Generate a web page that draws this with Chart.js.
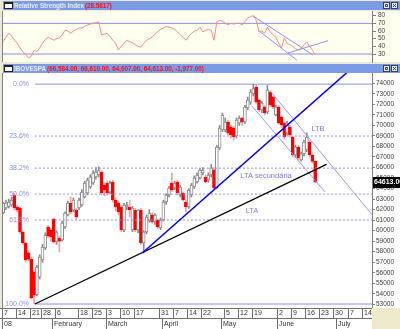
<!DOCTYPE html>
<html>
<head>
<meta charset="utf-8">
<title>IBOVESPA</title>
<script src="https://cdn.jsdelivr.net/npm/chart.js@4.4.1/dist/chart.umd.min.js"></script>
<style>
  body { margin: 0; width: 400px; height: 329px; overflow: hidden; background: #ece9d8; position: relative; }
  #rsiWrap { position: absolute; left: 0; top: 0; width: 400px; height: 72px; }
  #mainWrap { position: absolute; left: 0; top: 64px; width: 400px; height: 265px; }
</style>
</head>
<body>
<div id="rsiWrap"><canvas id="rsiChart" width="400" height="72"></canvas></div>
<div id="mainWrap"><canvas id="mainChart" width="400" height="265"></canvas></div>
<script>
// ==================== data ====================

// daily candles, Jan 7 2008 = index 0
const opens  = [61700,62150,62300,62440,63390,62250,62150,59870,58830,57900,57300,56070,53890,55600,57210,58350,60350,60060,61110,58920,
                59300,59110,60350,61490,62630,61960,61960,62150,62440,63200,63580,64150,64530,65100,65300,65570,64340,64530,63670,64620,
                62910,62630,62250,60060,62250,62250,60060,61960,60060,61960,58830,59870,61000,61490,60820,61010,60250,61010,62720,63390,
                64530,64050,64620,63390,63580,62720,62250,63390,64150,64620,65000,65480,65100,64810,65290,65760,64100,67850,69560,69560,
                70320,69850,69750,69000,70230,70700,70320,71650,72220,73000,73650,72410,71460,71750,71270,73170,72700,70990,71750,70800,
                70230,69280,69850,68900,67190,67950,66710,67290,67660,68420,67190,66584];
const highs  = [62700,62900,63000,63200,63580,62400,62250,60000,58900,58100,57500,56200,56700,57700,58700,59800,60500,60200,61200,60000,
                59500,60900,61800,62800,63200,63100,62100,63100,63900,64700,65000,65300,65700,66000,66050,65700,64500,64700,64700,64800,
                63100,62800,62400,62600,62700,62900,62300,62100,62000,62100,60000,61500,62000,61700,61600,61100,61200,62900,63500,64200,
                65480,64700,64800,64300,63700,62900,64000,64500,65200,65500,65900,66000,65300,65500,66300,66000,68100,70000,71180,70700,
                70500,70000,69900,70700,70900,70800,71900,72700,73400,73920,73800,72500,72300,71900,73800,73300,72800,71900,71900,70900,
                70300,70400,70000,69000,68100,68100,67500,68600,69280,68600,67300,66610];
const lows   = [61600,62000,62150,62300,62000,61800,59700,58700,57000,57100,53500,53030,53800,55400,57000,58200,59300,59000,58800,58700,
                57970,59000,60200,61400,61600,61800,61100,62000,62300,63100,63400,64000,64400,64900,65100,63400,63300,63400,63500,62700,
                61900,61500,59900,59900,62000,61300,59900,59900,59800,58700,57880,59700,60800,60700,60600,60200,60100,60900,62500,63200,
                63700,63900,63400,63200,62800,61770,62100,63200,64000,64500,64900,65300,64500,64600,65100,63900,64000,67700,69400,69400,
                69100,68800,68600,68800,70000,70000,70200,71500,72000,72800,72100,71300,71200,71000,71100,71800,71600,70900,70100,69800,
                68700,69100,68900,67000,67000,66700,66600,67100,67500,67000,66400,64607];
const closes = [62600,62630,62720,62910,62150,61960,59870,58830,57210,57300,53600,53890,56550,57500,58450,59590,59490,59400,58920,59870,
                59000,60730,61680,62630,61770,62910,61300,62910,63670,64530,64810,65100,65480,65570,65700,63580,63860,63580,64530,62910,
                62250,61770,60060,62440,62440,61960,62150,60060,61960,58830,59870,61300,61680,60820,61490,60350,61010,62720,63390,64050,
                63860,64530,63580,64150,62910,62250,63860,64340,65000,65290,65760,65760,64620,65290,65960,64050,67950,69750,70990,70320,
                69280,69090,68900,70510,70700,70320,71750,72410,73170,73500,72220,71460,72120,71180,73360,71940,71750,71750,70230,70040,
                68900,70230,69090,67190,67950,66900,67290,68420,68900,67190,66590,64613];

// RSI(14)
const rsiValues = [46,52,57,54,48,44,38,33,29,25,27,35,33,38,44,49,52,50,48,50,
                   51,55,61,60,57,60,62,64,64,66,68,69,70,71,72,55,56,57,53,48,
                   44,35,40,44,48,46,45,42,40,39,44,48,50,52,56,59,62,64,66,65,
                   64,62,59,55,52,48,53,57,60,61,65,59,61,62,61,48,72,74,73,70,
                   68,70,69,70,70,68,72,77,79,80,74,59,60,57,65,59,55,52,44,38,
                   51,44,42,40,37,35,37,42,46,40,35,28.58];
const rsiTicks = [30, 40, 50, 60, 70, 80];
const rsiBands = [70, 30];

// trendlines on the RSI panel: [x0, x1], [y0, y1]
const rsiUpperX = [88.9, 110.2], rsiUpperY = [79.6, 28.7];
const rsiLowerX = [91.4, 104.5], rsiLowerY = [59.1, 22];
const rsiRiseX = [101.3, 115.6], rsiRiseY = [31.3, 47.4];

// price axis
const priceTicks = [53000,54000,55000,56000,57000,58000,59000,60000,61000,62000,63000,
                    64000,65000,66000,67000,68000,69000,70000,71000,72000,73000,74000];

// fibonacci retracement between the January low and the May high
const fibHigh = 73920, fibLow = 53030, fibStart = 11.3;
const fibRatios = [0, 23.6, 38.2, 50, 61.8, 100];
const fibLabels = ['0.0%', '23.6%', '38.2%', '50.0%', '61.8%', '100.0%'];

// trendlines on the price panel
const ltaX = [11.3, 115], ltaY = [53030, 66300];          // black
const ltaSecX = [49.5, 124], ltaSecY = [57880, 75430];    // blue
const ltbTopX = [95.3, 131.6], ltbTopY = [73170, 61390];  // channel
const ltbBotX = [88.5, 114.5], ltbBotY = [71840, 63670];

const noteTexts = ['LTB', 'LTA secundária', 'LTA'];
const noteX = [112, 93.5, 88.5];
const noteY = [69650, 65190, 61870];

// date axis (trading day index)
const dayTickIdx = [0,5,10,14,19,27,32,37,42,47,56,61,66,71,79,84,89,98,103,108,113,118,123,128];
const dayTickLabels = ['7','14','21','28','6','18','25','3','10','17','31','7','14','22','5','12','19','2','9','16','23','30','7','14'];
const monthTickIdx = [0, 18, 37, 57, 78, 98, 119];
const monthLabels = ['08', 'February', 'March', 'April', 'May', 'June', 'July'];

const lastValue = '64613.00';
const mainTitle = 'IBOVESPA';
const mainTitleValues = '(66,584.00, 66,610.00, 64,607.00, 64,613.00, -1,977.00)';
const rsiTitle = 'Relative Strength Index';
const rsiTitleValue = '(28.5817)';

// ==================== style ====================
const xMin = -0.05, xMax = 131.2;
const fibColor = '#8c8cf0';
const barBlue = '#7b9be6';
const fontFamily = "'Liberation Sans', Arial, sans-serif";
const narrowFamily = "'Liberation Sans Narrow', 'Liberation Sans', Arial, sans-serif";

Chart.defaults.font.family = fontFamily;
Chart.defaults.animation = false;

function seg(xs, ys) {
  return [{ x: xs[0], y: ys[0] }, { x: xs[1], y: ys[1] }];
}

function lineSet(data, color, width, dash, order) {
  return {
    type: 'line', data, borderColor: color, borderWidth: width, borderDash: dash || [],
    pointRadius: 0, fill: false, tension: 0, order: order
  };
}

// title bar drawn in canvas
function drawTitleBar(ctx, y, parts) {
  ctx.save();
  ctx.fillStyle = barBlue;
  ctx.fillRect(3, y, 397, 9);
  ctx.fillStyle = '#ffffff';
  ctx.fillRect(4, y + 1, 9, 7);
  ctx.strokeStyle = '#202020';
  ctx.lineWidth = 1;
  ctx.strokeRect(4.5, y + 1.5, 8, 6);
  ctx.fillStyle = '#202020';
  ctx.fillRect(5, y + 2, 7, 1);
  let x = 14;
  ctx.textBaseline = 'middle';
  parts.forEach(p => {
    ctx.font = p.font;
    ctx.fillStyle = p.color;
    ctx.fillText(p.text, x, y + 5);
    x += ctx.measureText(p.text).width + 1;
  });
  // window buttons
  [383, 391].forEach((bx, k) => {
    ctx.fillStyle = '#e8e8e8';
    ctx.fillRect(bx, y + 1, 7, 7);
    ctx.strokeStyle = '#404040';
    ctx.strokeRect(bx + 0.5, y + 1.5, 6, 6);
    ctx.beginPath();
    if (k === 0) {
      ctx.rect(bx + 2.5, y + 3.5, 2, 2);
    } else {
      ctx.moveTo(bx + 2, y + 3); ctx.lineTo(bx + 5, y + 6);
      ctx.moveTo(bx + 5, y + 3); ctx.lineTo(bx + 2, y + 6);
    }
    ctx.stroke();
  });
  ctx.restore();
}

// ==================== RSI panel ====================
const rsiPanel = {
  id: 'rsiPanel',
  beforeDraw(chart) {
    const { ctx, chartArea } = chart;
    ctx.save();
    ctx.fillStyle = '#fffff0';
    ctx.fillRect(2, chartArea.top, 398, chartArea.bottom - chartArea.top);
    ctx.fillStyle = '#808080';
    ctx.fillRect(2, chartArea.top, 1, chartArea.bottom - chartArea.top);
    ctx.restore();
  },
  afterDraw(chart) {
    drawTitleBar(chart.ctx, 1, [
      { text: rsiTitle, font: 'bold 6.3px ' + fontFamily, color: '#e8eeff' },
      { text: rsiTitleValue, font: 'bold 6.3px ' + fontFamily, color: '#ff1010' }
    ]);
  }
};

new Chart(document.getElementById('rsiChart'), {
  type: 'line',
  data: {
    datasets: [
      lineSet(rsiValues.map((v, i) => ({ x: i, y: v })), '#ff8a8a', 1, null, 2),
      lineSet(seg([xMin, xMax], [rsiBands[0], rsiBands[0]]), '#8c8ce8', 1, null, 3),
      lineSet(seg([xMin, xMax], [rsiBands[1], rsiBands[1]]), '#8c8ce8', 1, null, 3),
      lineSet(seg(rsiUpperX, rsiUpperY), '#9090f0', 1, null, 1),
      lineSet(seg(rsiLowerX, rsiLowerY), '#9090f0', 1, null, 1),
      lineSet(seg(rsiRiseX, rsiRiseY), '#9090f0', 1, null, 1)
    ]
  },
  options: {
    responsive: false,
    events: [],
    layout: { autoPadding: false, padding: { left: 3, top: 11, right: 0, bottom: 10 } },
    plugins: { legend: { display: false }, tooltip: { enabled: false } },
    scales: {
      x: { type: 'linear', min: xMin, max: xMax, display: false },
      y: {
        position: 'right', min: 19.6, max: 86.1,
        afterFit(s) { s.width = 28; },
        afterBuildTicks(s) { s.ticks = rsiTicks.map(v => ({ value: v })); },
        ticks: { autoSkip: false, font: { size: 6.5, family: narrowFamily }, color: '#404040', padding: 2 },
        grid: { drawOnChartArea: false, tickLength: 4, color: '#808080' },
        border: { color: '#808080' }
      }
    }
  },
  plugins: [rsiPanel]
});

// ==================== price panel ====================
const isUp = opens.map((o, i) => closes[i] >= o);
const fibPrices = fibRatios.map(r => fibHigh - (fibHigh - fibLow) * r / 100);

const pricePanel = {
  id: 'pricePanel',
  beforeDraw(chart) {
    const { ctx, chartArea } = chart;
    ctx.save();
    ctx.fillStyle = '#ffffff';
    ctx.fillRect(2, chartArea.top, 398, chartArea.bottom - chartArea.top);
    ctx.fillStyle = '#808080';
    ctx.fillRect(2, chartArea.top, 1, chartArea.bottom - chartArea.top);
    ctx.restore();
  },
  afterDraw(chart) {
    const { ctx, chartArea, scales: { x, y } } = chart;
    ctx.save();

    // fibonacci labels
    ctx.font = '7px ' + fontFamily;
    ctx.fillStyle = fibColor;
    ctx.textAlign = 'right';
    ctx.textBaseline = 'middle';
    fibPrices.forEach((p, k) => ctx.fillText(fibLabels[k], 29, y.getPixelForValue(p)));

    // notes
    ctx.font = '7.5px ' + fontFamily;
    ctx.fillStyle = '#7c7ce6';
    ctx.textAlign = 'center';
    noteTexts.forEach((t, k) => ctx.fillText(t, x.getPixelForValue(noteX[k]), y.getPixelForValue(noteY[k])));

    // last value tag
    const ly = Math.round(y.getPixelForValue(closes[closes.length - 1]));
    ctx.fillStyle = '#000000';
    ctx.fillRect(chartArea.right + 1, ly - 5, 28, 11);
    ctx.fillStyle = '#ffffff';
    ctx.font = 'bold 7px ' + narrowFamily;
    ctx.textAlign = 'left';
    ctx.fillText(lastValue, chartArea.right + 2, ly + 0.5);

    // date band
    const top = chartArea.bottom;
    const mid = top + 10;
    const bot = chart.height;
    ctx.fillStyle = '#ffffff';
    ctx.fillRect(0, top, chartArea.right, bot - top);
    ctx.fillStyle = '#efe9cc';
    ctx.fillRect(chartArea.right, top, 400 - chartArea.right, bot - top);
    ctx.strokeStyle = '#707070';
    ctx.lineWidth = 1;
    ctx.beginPath();
    ctx.moveTo(0, top + 0.5); ctx.lineTo(chartArea.right, top + 0.5);
    ctx.moveTo(0, mid + 0.5); ctx.lineTo(chartArea.right, mid + 0.5);
    dayTickIdx.forEach(i => {
      const px = Math.round(x.getPixelForValue(i - 0.5)) + 0.5;
      ctx.moveTo(px, top); ctx.lineTo(px, mid);
    });
    monthTickIdx.forEach(i => {
      const px = Math.round(x.getPixelForValue(i - 0.5)) + 0.5;
      ctx.moveTo(px, mid); ctx.lineTo(px, bot);
    });
    ctx.stroke();

    ctx.fillStyle = '#303030';
    ctx.font = '7px ' + fontFamily;
    ctx.textAlign = 'left';
    ctx.textBaseline = 'middle';
    dayTickIdx.forEach((i, k) => {
      ctx.fillText(dayTickLabels[k], Math.round(x.getPixelForValue(i - 0.5)) + 2, top + 5.5);
    });
    monthTickIdx.forEach((i, k) => {
      ctx.fillText(monthLabels[k], Math.max(2, Math.round(x.getPixelForValue(i - 0.5)) + 2), mid + 6);
    });

    drawTitleBar(ctx, 0, [
      { text: mainTitle, font: 'bold 6.3px ' + fontFamily, color: '#e8eeff' },
      { text: mainTitleValues, font: 'bold 6.3px ' + fontFamily, color: '#ff1010' }
    ]);
    ctx.restore();
  }
};

const datasets = [
  {
    type: 'bar',
    data: opens.map((o, i) => ({ x: i, y: [lows[i], highs[i]] })),
    backgroundColor: isUp.map(u => u ? '#8a8a8a' : '#ff9c9c'),
    borderWidth: 0, barThickness: 1, grouped: false, order: 5
  },
  {
    type: 'bar',
    data: opens.map((o, i) => ({ x: i, y: [o, closes[i]] })),
    backgroundColor: isUp.map(u => u ? '#ffffff' : '#ff0000'),
    borderColor: isUp.map(u => u ? '#8a8a8a' : '#ff0000'),
    borderWidth: 1, borderSkipped: false, barThickness: 3, minBarLength: 1,
    grouped: false, order: 4
  }
];
fibPrices.forEach((p, k) => {
  const solid = k === 0 || k === fibPrices.length - 1;
  datasets.push(lineSet(seg([fibStart, xMax], [p, p]), fibColor, 1, solid ? null : [2, 2], 3));
});
datasets.push(lineSet(seg(ltbTopX, ltbTopY), '#9a9af2', 1, null, 2));
datasets.push(lineSet(seg(ltbBotX, ltbBotY), '#9a9af2', 1, null, 2));
datasets.push(lineSet(seg(ltaX, ltaY), '#000000', 1.3, null, 1));
datasets.push(lineSet(seg(ltaSecX, ltaSecY), '#0000ff', 1.5, null, 0));

new Chart(document.getElementById('mainChart'), {
  type: 'bar',
  data: { datasets },
  options: {
    responsive: false,
    events: [],
    layout: { padding: { left: 3, top: 9, right: 0, bottom: 21 } },
    plugins: { legend: { display: false }, tooltip: { enabled: false } },
    scales: {
      x: { type: 'linear', min: xMin, max: xMax, offset: false, display: false },
      y: {
        position: 'right', min: 52650, max: 74980,
        afterFit(s) { s.width = 28; },
        afterBuildTicks(s) { s.ticks = priceTicks.map(v => ({ value: v })); },
        ticks: { font: { size: 6.5, family: narrowFamily }, color: '#404040', padding: 1, callback: v => String(v) },
        grid: { drawOnChartArea: false, tickLength: 3, color: '#808080' },
        border: { color: '#808080' }
      }
    }
  },
  plugins: [pricePanel]
});
</script>
</body>
</html>
